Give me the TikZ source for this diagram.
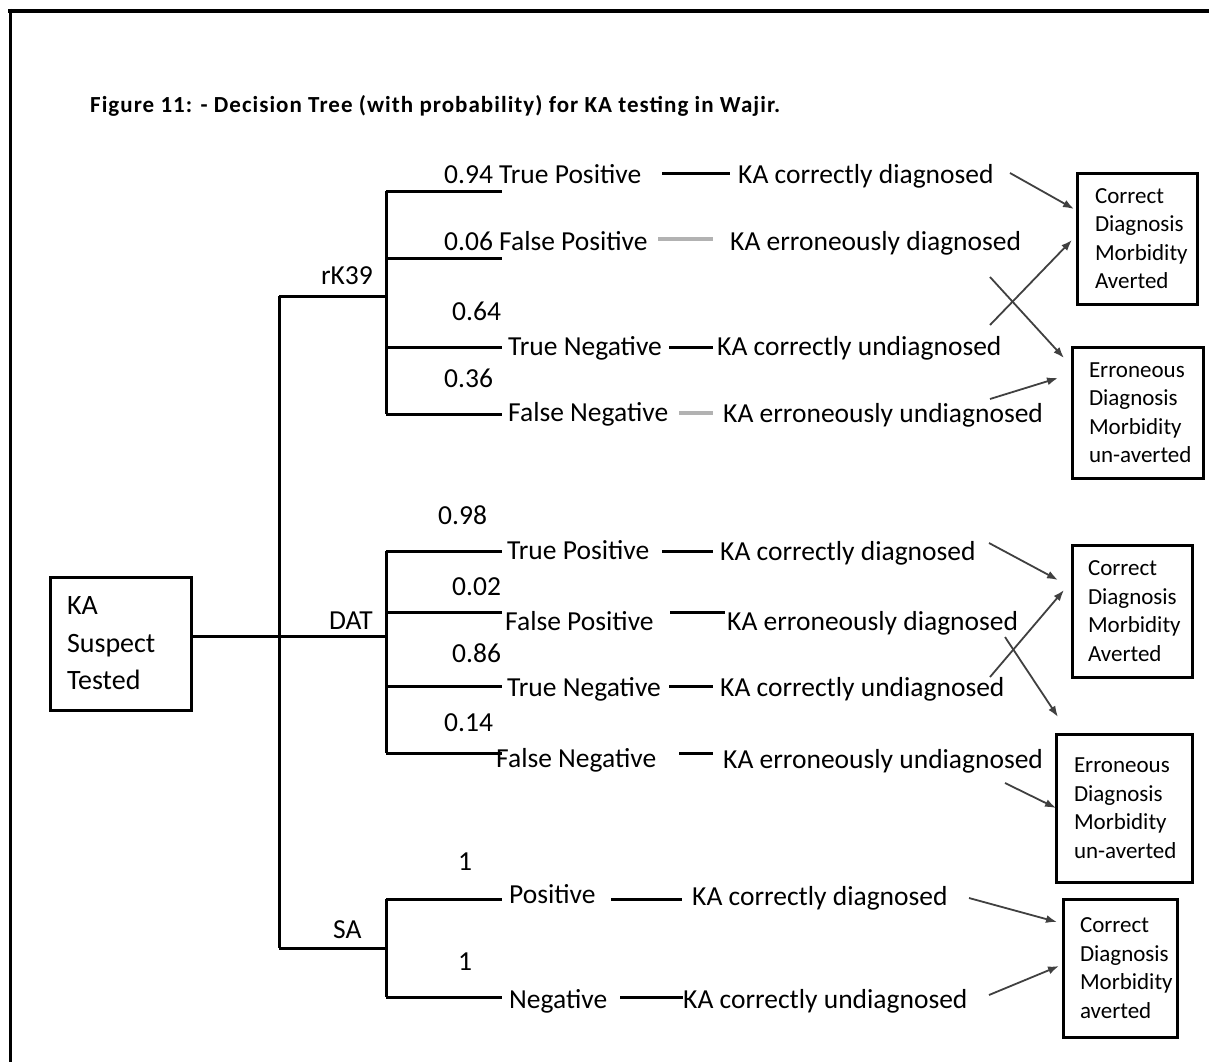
\documentclass[tikz,border=0pt]{standalone}
\usepackage{fontspec}
\setmainfont{Carlito}
\usetikzlibrary{arrows.meta}
\tikzset{
 lbl/.style={font=\fontsize{27.5}{30}\selectfont, inner sep=0pt, anchor=base west},
 lblr/.style={lbl, anchor=base east},
 ttl/.style={font=\fontsize{23}{26}\selectfont\bfseries\addfontfeature{LetterSpace=4.5}, inner sep=0pt, anchor=base west},
 branch/.style={line width=3pt},
 conn/.style={line width=3pt},
 gconn/.style={line width=4pt, draw=black!30},
 arr/.style={line width=1.8pt, draw=black!75, -{Latex[length=11pt,width=8pt]}},
 outcome/.style={draw, line width=3pt, inner ysep=0pt, align=left, font=\fontsize{23}{28.5}\selectfont},
}
\begin{document}
\begin{tikzpicture}[x=1pt,y=-1pt]
\useasboundingbox (0,0) rectangle (1209,1062);
% frame
\draw[line width=4pt] (8,11) -- (1209,11);
\draw[line width=3pt] (10,9) -- (10,1062);
% title
\node[ttl] (title) at (90,113) {Figure 11: - Decision Tree (with probability) for KA testing in Wajir.};
% root box
\node[draw, line width=3pt, minimum width=141pt, minimum height=133pt, text width=107pt, inner xsep=17pt, inner ysep=0pt, align=left, font=\fontsize{28}{37.5}\selectfont] (ka) at (120.5,643.5) {KA\\Suspect\\Tested};
% outcome boxes
\node[outcome, minimum width=120pt, minimum height=131pt, text width=84pt, inner xsep=18pt] (b1) at (1137,238.5) {Correct\\Diagnosis\\\mbox{Morbidity}\\Averted};
\node[outcome, minimum width=131pt, minimum height=131pt, text width=97pt, inner xsep=17pt] (b2) at (1137.5,412.5) {Erroneous\\Diagnosis\\\mbox{Morbidity}\\\mbox{un-averted}};
\node[outcome, minimum width=120pt, minimum height=132pt, text width=88pt, inner xsep=16pt] (b3) at (1132,611) {Correct\\Diagnosis\\\mbox{Morbidity}\\Averted};
\node[outcome, minimum width=136pt, minimum height=148pt, text width=100pt, inner xsep=18pt] (b4) at (1124,808) {Erroneous\\Diagnosis\\\mbox{Morbidity}\\\mbox{un-averted}\par\vspace{20pt}};
\node[outcome, minimum width=114pt, minimum height=138pt, text width=80pt, inner xsep=17pt] (b5) at (1120,968) {Correct\\Diagnosis\\\mbox{Morbidity}\\averted};
% tree coordinates
\coordinate (ttop) at (279,296);
\coordinate (tbot) at (279,948);
\coordinate (kaout) at (191,636);
\coordinate (rj) at (386,296);
\coordinate (dj) at (386,636);
\coordinate (sj) at (386,948);
\coordinate (rt) at (386,191); \coordinate (rb) at (386,414);
\coordinate (dt) at (386,551); \coordinate (db) at (386,753);
\coordinate (st) at (386,899); \coordinate (sb) at (386,997);
\draw[branch] (ttop) -- (tbot);
\draw[branch] (kaout) -- (dj);
\draw[branch] (ttop) -- (rj);
\draw[branch] (tbot) -- (sj);
\draw[branch] (rt) -- (rb);
\draw[branch] (dt) -- (db);
\draw[branch] (st) -- (sb);
\foreach \y/\n in {191/r1,258/r2,347/r3,414/r4,551/d1,612/d2,686/d3,753/d4,899/s1,997/s2}{
  \coordinate (e\n) at (502,\y);
  \draw[branch] (386,\y) -- (e\n);
}
% rK39 labels
\node[lblr] (lrk) at (373,284) {rK39};
\node[lbl] (r1) at (444,183) {0.94 True Positive};
\node[lbl] (r2) at (444,250) {0.06 False Positive};
\node[lbl] (p3) at (452,320) {0.64};
\node[lbl] (r3) at (508,355) {True Negative};
\node[lbl] (p4) at (444,387) {0.36};
\node[lbl] (r4) at (508,421) {False Negative};
\node[lbl] (o1) at (738,183) {KA correctly diagnosed};
\node[lbl] (o2) at (730,250) {KA erroneously diagnosed};
\node[lbl] (o3) at (717,355) {KA correctly undiagnosed};
\node[lbl] (o4) at (723,422) {KA erroneously undiagnosed};
\coordinate (c1a) at (662,173); \coordinate (c1b) at (730,173);
\coordinate (c2a) at (658,239); \coordinate (c2b) at (713,239);
\coordinate (c3a) at (669,347); \coordinate (c3b) at (713,347);
\coordinate (c4a) at (679,413); \coordinate (c4b) at (713,413);
\draw[conn] (c1a) -- (c1b);
\draw[gconn] (c2a) -- (c2b);
\draw[conn] (c3a) -- (c3b);
\draw[gconn] (c4a) -- (c4b);
\coordinate (a1s) at (1010,173); \coordinate (a1e) at (1074,209);
\coordinate (a2s) at (990,325); \coordinate (a2e) at (1072,240);
\coordinate (a3s) at (990,277); \coordinate (a3e) at (1064,358);
\coordinate (a4s) at (990,399); \coordinate (a4e) at (1058,378);
\draw[arr] (a1s) -- (a1e);
\draw[arr] (a2s) -- (a2e);
\draw[arr] (a3s) -- (a3e);
\draw[arr] (a4s) -- (a4e);
% DAT labels
\node[lblr] (ldat) at (373,629) {DAT};
\node[lbl] (q1) at (438,524) {0.98};
\node[lbl] (d1) at (507,559) {True Positive};
\node[lbl] (q2) at (452,595) {0.02};
\node[lbl] (d2) at (505,630) {False Positive};
\node[lbl] (q3) at (452,662) {0.86};
\node[lbl] (d3) at (507,696) {True Negative};
\node[lbl] (q4) at (444,731) {0.14};
\node[lbl] (d4) at (496,767) {False Negative};
\node[lbl] (u1) at (720,560) {KA correctly diagnosed};
\node[lbl] (u2) at (727,630) {KA erroneously diagnosed};
\node[lbl] (u3) at (720,696) {KA correctly undiagnosed};
\node[lbl] (u4) at (723,768) {KA erroneously undiagnosed};
\coordinate (k1a) at (662,551); \coordinate (k1b) at (713,551);
\coordinate (k2a) at (670,612); \coordinate (k2b) at (725,612);
\coordinate (k3a) at (669,686); \coordinate (k3b) at (713,686);
\coordinate (k4a) at (679,753); \coordinate (k4b) at (713,753);
\draw[conn] (k1a) -- (k1b);
\draw[conn] (k2a) -- (k2b);
\draw[conn] (k3a) -- (k3b);
\draw[conn] (k4a) -- (k4b);
\coordinate (b1s) at (989,543); \coordinate (b1e) at (1058,580);
\coordinate (b2s) at (990,677); \coordinate (b2e) at (1064,590);
\coordinate (b3s) at (1005,637); \coordinate (b3e) at (1058,717);
\coordinate (b4s) at (1005,783); \coordinate (b4e) at (1056,808);
\draw[arr] (b1s) -- (b1e);
\draw[arr] (b2s) -- (b2e);
\draw[arr] (b3s) -- (b3e);
\draw[arr] (b4s) -- (b4e);
% SA labels
\node[lbl] (lsa) at (333,938) {SA};
\node[lbl] (n1) at (458,870) {1};
\node[lbl] (n2) at (458,970) {1};
\node[lbl] (s1) at (509,903) {Positive};
\node[lbl] (s2) at (509,1008) {Negative};
\node[lbl] (v1) at (692,905) {KA correctly diagnosed};
\node[lbl] (v2) at (683,1008) {KA correctly undiagnosed};
\coordinate (m1a) at (611,899); \coordinate (m1b) at (682,899);
\coordinate (m2a) at (620,997); \coordinate (m2b) at (683,997);
\draw[conn] (m1a) -- (m1b);
\draw[conn] (m2a) -- (m2b);
\coordinate (c1s) at (969,898); \coordinate (c1e) at (1057,922);
\coordinate (c2s) at (989,995); \coordinate (c2e) at (1059,966);
\draw[arr] (c1s) -- (c1e);
\draw[arr] (c2s) -- (c2e);
\end{tikzpicture}
\end{document}
